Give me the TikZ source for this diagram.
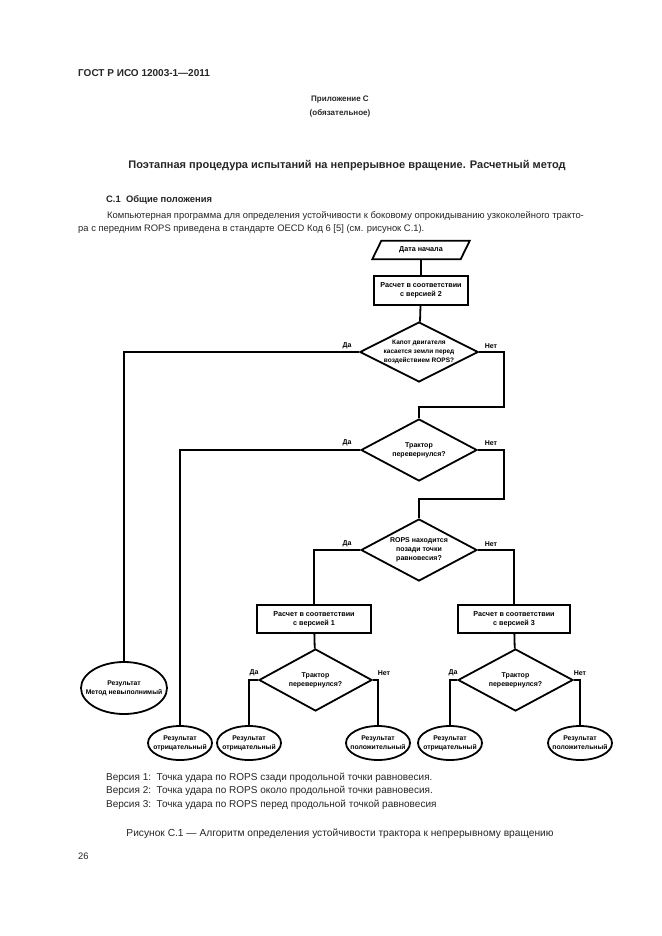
\documentclass[tikz,border=0pt]{standalone}
\usepackage{fontspec}
\setmainfont{Liberation Sans}
\usetikzlibrary{shapes.geometric,calc}
\newcommand{\zw}[1]{\makebox[0pt]{#1}}
\tikzset{
  flow/.style={line width=1.8pt, draw=black},
  conn/.style={line width=1.8pt, draw=black},
  fbox/.style={flow, rectangle, inner sep=0pt, align=center, font=\bfseries\fontsize{7.2}{9}\selectfont},
  fdia/.style={flow, diamond, aspect=2, inner sep=0pt, align=center, font=\bfseries\fontsize{7}{9}\selectfont, minimum width=116pt, minimum height=60pt},
  fell/.style={flow, ellipse, inner sep=0pt, align=center, font=\bfseries\fontsize{6.8}{9}\selectfont, minimum width=64pt, minimum height=34pt},
  lbl/.style={inner sep=0pt, font=\bfseries\fontsize{7}{8}\selectfont},
  txt/.style={inner sep=0pt, text=black!85},
}
\begin{document}
\begin{tikzpicture}[x=1pt,y=-1pt]
\useasboundingbox[fill=white] (0,0) rectangle (661,936);
% page texts
\node[txt, anchor=west, font=\bfseries\fontsize{10}{12}\selectfont] (hdr) at (78,73) {ГОСТ Р ИСО 12003-1—2011};
\node[txt, font=\bfseries\fontsize{8}{10}\selectfont] (app) at (340,100) {Приложение С};
\node[txt, font=\bfseries\fontsize{8}{10}\selectfont] (oblig) at (340,113) {(обязательное)};
\node[txt, font=\bfseries\fontsize{11}{13}\selectfont] (title) at (347,166) {Поэтапная процедура испытаний на непрерывное вращение. Расчетный метод};
\node[txt, anchor=west, font=\bfseries\fontsize{9.4}{11}\selectfont] (sec) at (106,200) {С.1\ \ Общие положения};
\node[txt, anchor=west, font=\fontsize{9.4}{11}\selectfont] (p1) at (107,216) {Компьютерная программа для определения устойчивости к боковому опрокидыванию узкоколейного тракто-};
\node[txt, anchor=west, font=\fontsize{9.4}{11}\selectfont] (p2) at (78,229) {ра с передним ROPS приведена в стандарте OECD Код 6 [5] (см. рисунок С.1).};

% flowchart
\node[inner sep=0pt, minimum width=88pt, minimum height=18pt, font=\bfseries\fontsize{7.2}{9}\selectfont] (start) at (421,250) {Дата начала};
\draw[flow, line join=miter] ($(start.north west)+(4.5,0)$) -- ($(start.north east)+(4.5,0)$) -- ($(start.south east)+(-4.5,0)$) -- ($(start.south west)+(-4.5,0)$) -- cycle;
\node[fbox, minimum width=94pt, minimum height=29pt] (calc2) at (421,290.5) {Расчет в соответствии\\с версией 2};
\node[fdia, font=\bfseries\fontsize{6.5}{9}\selectfont] (d1) at (419,352) {Капот двигателя\\касается земли перед\\воздействием ROPS?};
\node[fdia, minimum height=62pt] (d2) at (419,450) {Трактор\\перевернулся?};
\node[fdia, minimum height=62pt] (d3) at (419,550) {ROPS находится\\позади точки\\равновесия?};
\node[fbox, minimum width=114pt, minimum height=28pt] (c1) at (314,619) {Расчет в соответствии\\с версией 1};
\node[fbox, minimum width=112pt, minimum height=28pt] (c3) at (514,619) {Расчет в соответствии\\с версией 3};
\node[fdia, minimum width=113pt, minimum height=62pt] (d4) at (315.5,680) {Трактор\\перевернулся?};
\node[fdia, minimum width=115pt, minimum height=62pt] (d5) at (515.5,680) {Трактор\\перевернулся?};

\node[fell, minimum width=86pt, minimum height=52pt] (e0) at (124,688) {\zw{Результат}\\\zw{Метод невыполнимый}};
\node[fell] (e1) at (180,743) {\zw{Результат}\\\zw{отрицательный}};
\node[fell] (e2) at (249,743) {\zw{Результат}\\\zw{отрицательный}};
\node[fell] (e3) at (378,743) {\zw{Результат}\\\zw{положительный}};
\node[fell] (e4) at (450,743) {\zw{Результат}\\\zw{отрицательный}};
\node[fell] (e5) at (580,743) {\zw{Результат}\\\zw{положительный}};

\coordinate (r1) at (504,407);
\coordinate (r2) at (504,499);

\draw[conn] (start) -- (calc2);
\draw[conn] (calc2) -- (d1);
\draw[conn] (d1.west) -| (e0.north);
\draw[conn] (d1.east) -| (r1) -| (d2.north);
\draw[conn] (d2.west) -| (e1.north);
\draw[conn] (d2.east) -| (r2) -| (d3.north);
\draw[conn] (d3.west) -| (c1.north);
\draw[conn] (d3.east) -| (c3.north);
\draw[conn] (c1) -- (d4);
\draw[conn] (c3) -- (d5);
\draw[conn] (d4.west) -| (e2.north);
\draw[conn] (d4.east) -| (e3.north);
\draw[conn] (d5.west) -| (e4.north);
\draw[conn] (d5.east) -| (e5.north);

\node[lbl] (y1) at (347,346) {Да};
\node[lbl] (n1) at (491,346) {Нет};
\node[lbl] (y2) at (347,443) {Да};
\node[lbl] (n2) at (491,443) {Нет};
\node[lbl] (y3) at (347,544) {Да};
\node[lbl] (n3) at (491,544) {Нет};
\node[lbl] (y4) at (254,673) {Да};
\node[lbl] (n4) at (384,673) {Нет};
\node[lbl] (y5) at (453,673) {Да};
\node[lbl] (n5) at (580,673) {Нет};

% notes
\node[txt, anchor=west, font=\fontsize{10}{12}\selectfont] (v1) at (106,778) {Версия 1:\ \ Точка удара по ROPS сзади продольной точки равновесия.};
\node[txt, anchor=west, font=\fontsize{10}{12}\selectfont] (v2) at (106,791) {Версия 2:\ \ Точка удара по ROPS около продольной точки равновесия.};
\node[txt, anchor=west, font=\fontsize{10}{12}\selectfont] (v3) at (106,805) {Версия 3:\ \ Точка удара по ROPS перед продольной точкой равновесия};
\node[txt, font=\fontsize{10.2}{12}\selectfont] (cap) at (340,834) {Рисунок С.1 — Алгоритм определения устойчивости трактора к непрерывному вращению};
\node[txt, anchor=west, font=\fontsize{9.4}{11}\selectfont] (pg) at (78,856) {26};
\end{tikzpicture}
\end{document}
